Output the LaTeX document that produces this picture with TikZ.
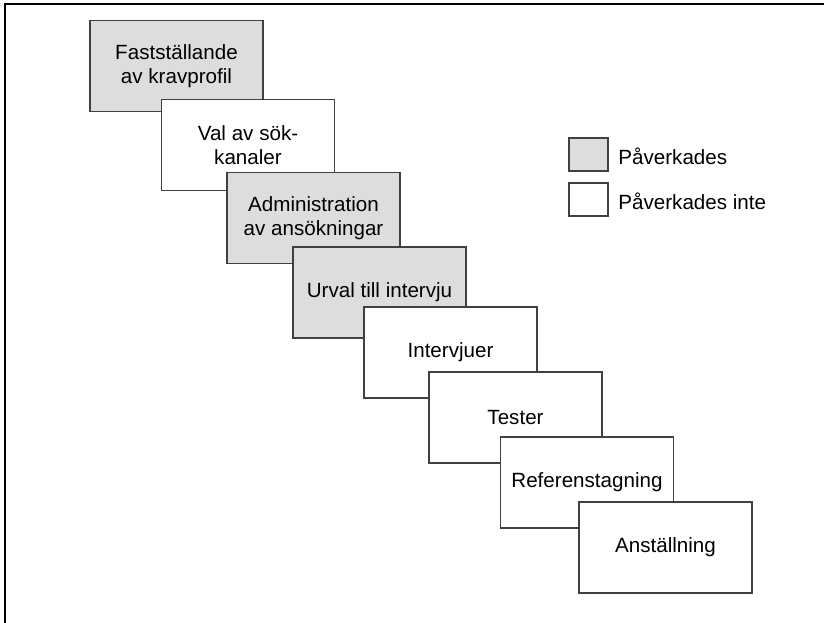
\documentclass[tikz,border=0pt]{standalone}
\usepackage{fontspec}
\setmainfont{Liberation Sans}
\usetikzlibrary{positioning}

\definecolor{affgray}{HTML}{DDDDDD}
\definecolor{edgegray}{HTML}{404040}

\tikzset{
    stagebox/.style={draw=edgegray, line width=0.6pt, minimum width=86.5pt,
        minimum height=45.5pt, align=center, inner sep=2pt,
        font=\fontsize{10.3}{12}\selectfont},
    affected/.style={stagebox, fill=affgray},
    unaffected/.style={stagebox, fill=white},
    keybox/.style={draw=edgegray, line width=0.6pt, minimum width=19.5pt,
        minimum height=16.5pt, inner sep=0pt},
    keytext/.style={anchor=west, inner sep=0pt, font=\fontsize{10.3}{12}\selectfont}
}

\begin{document}
\begin{tikzpicture}[x=0.5pt, y=-0.5pt]

% Fix the size of the page
\useasboundingbox (0,0) rectangle (824,622);

% Frame (top and left side only)
\draw[line width=1.1pt, line cap=rect] (5,622) -- (5,4) -- (824,4);

% Stages of the recruitment, each one overlapping the one before
\node[affected]   (krav)   at (176.5, 66)  {Fastställande\\av kravprofil};
\node[unaffected] (kanal)  at (248, 145)   {Val av sök-\\kanaler};
\node[affected]   (admin)  at (313.5, 218) {Administration\\av ansökningar};
\node[affected]   (urval)  at (379.5, 292.5) {Urval till intervju};
\node[unaffected] (intv)   at (450.5, 352.5) {Intervjuer};
\node[unaffected] (test)   at (515.5, 417.5) {Tester};
\node[unaffected] (ref)    at (587, 482.5) {Referenstagning};
\node[unaffected] (anst)   at (665.5, 547.5) {Anställning};

% Legend
\node[keybox, fill=affgray] (keyyes) at (588.5, 154.5) {};
\node[keytext] (keyyestxt) at (618, 156) {Påverkades};
\node[keybox, fill=white] (keyno) at (588.5, 199.5) {};
\node[keytext] (keynotxt) at (618, 201) {Påverkades inte};

\end{tikzpicture}
\end{document}
